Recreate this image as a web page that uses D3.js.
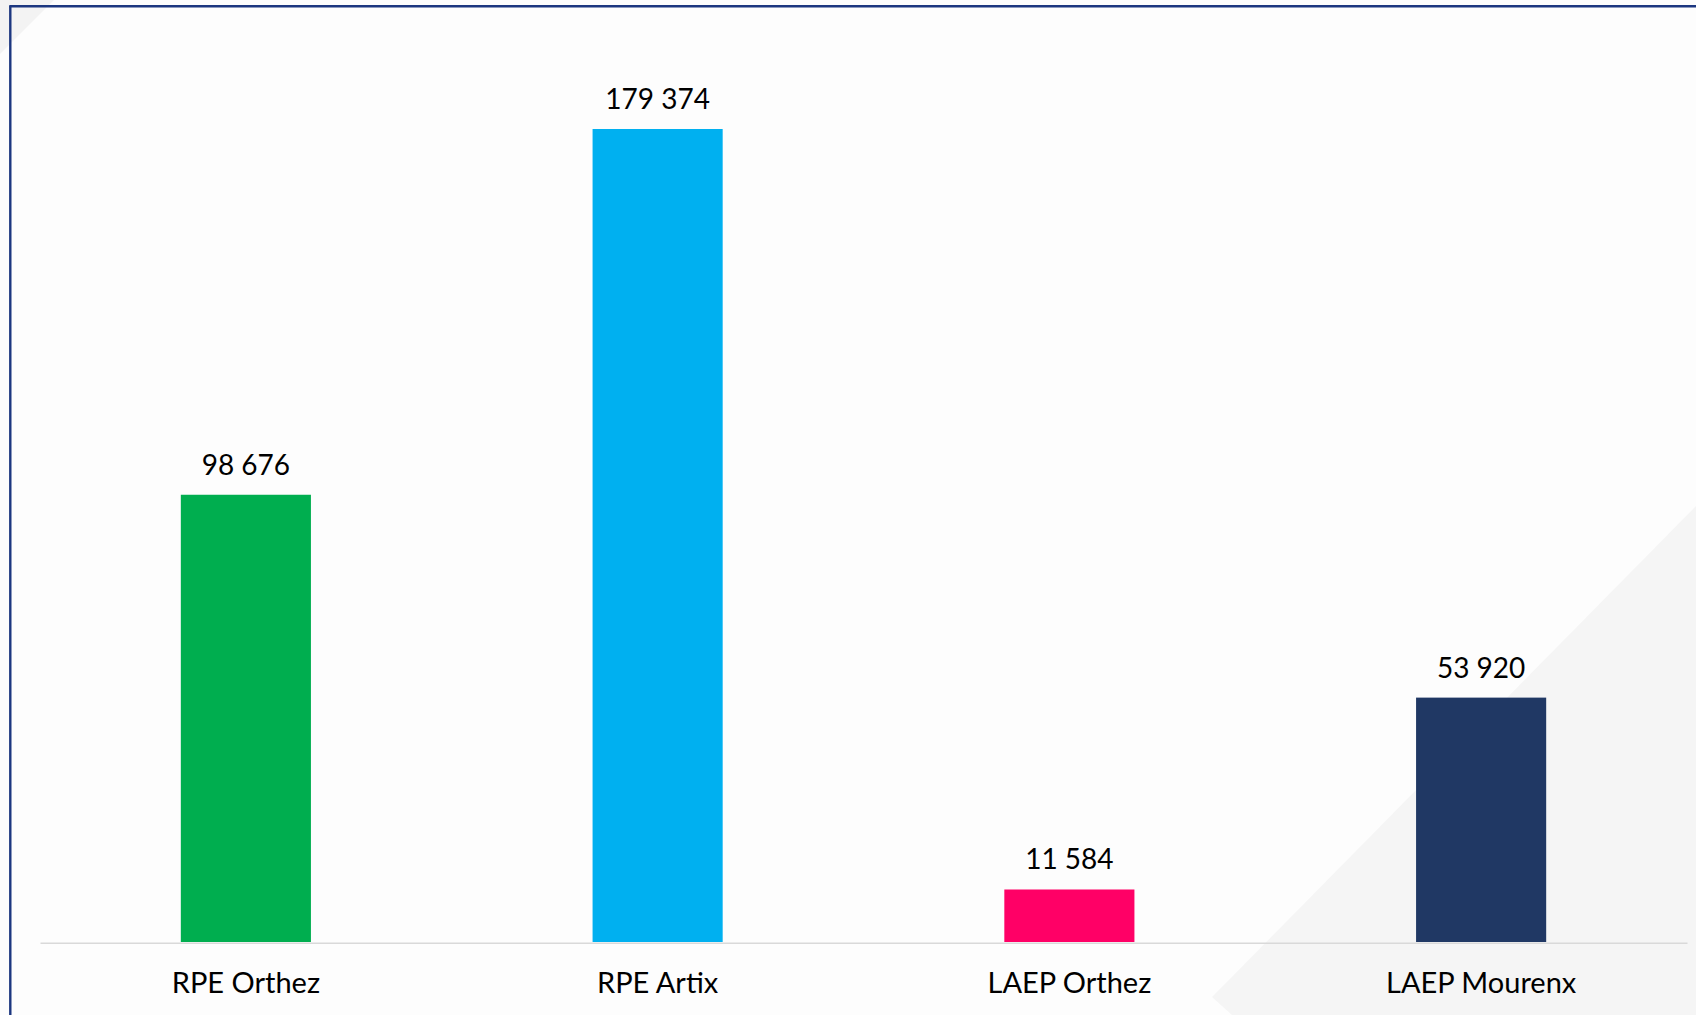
<!DOCTYPE html>
<html>
<head>
<meta charset="utf-8">
<script src="https://cdn.jsdelivr.net/npm/d3@7"></script>
<style>
  html, body { margin: 0; padding: 0; background: #fdfdfd; }
  svg { display: block; }
  text { font-family: Lato, "Open Sans", sans-serif; fill: #000; }
</style>
</head>
<body>
<svg id="chart" width="1696" height="1015"></svg>
<script>
const categories = ["RPE Orthez", "RPE Artix", "LAEP Orthez", "LAEP Mourenx"];
const values = [98676, 179374, 11584, 53920];
const valueLabels = ["98 676", "179 374", "11 584", "53 920"];
const barColors = ["#00AE4F", "#00B0F0", "#FF0066", "#203864"];
const yMax = 200000;

const W = 1696, H = 1015;
const svg = d3.select("#chart");

// background
svg.append("rect").attr("width", W).attr("height", H).attr("fill", "#fdfdfd");
// decorative light-grey diagonals
svg.append("polygon")
  .attr("points", [[0,0],[54,0],[0,54]].map(p => p.join(",")).join(" "))
  .attr("fill", "#f3f3f3");
svg.append("polygon")
  .attr("points", [[1696,506],[1696,1015],[1232,1015],[1212,997]].map(p => p.join(",")).join(" "))
  .attr("fill", "#f5f5f5");

// frame lines (top and left)
svg.append("line").attr("x1", 9.5).attr("y1", 6.3).attr("x2", W).attr("y2", 6.3)
  .attr("stroke", "#1c3780").attr("stroke-width", 2.4);
svg.append("line").attr("x1", 10.3).attr("y1", 5.5).attr("x2", 10.3).attr("y2", H)
  .attr("stroke", "#1c3780").attr("stroke-width", 2.4);

const baseY = 942;
const x = d3.scaleBand().domain(categories).range([40, 1687])
  .paddingInner(0.684).paddingOuter(0.342);
const y = d3.scaleLinear().domain([0, yMax]).range([baseY, baseY - yMax * (813 / 179374)]);

const data = categories.map((c, i) => ({ c, v: values[i], lab: valueLabels[i], col: barColors[i] }));

svg.append("g").selectAll("rect").data(data).join("rect")
  .attr("x", d => x(d.c))
  .attr("y", d => y(d.v))
  .attr("width", x.bandwidth())
  .attr("height", d => y(0) - y(d.v))
  .attr("fill", d => d.col);

svg.append("g").selectAll("text").data(data).join("text")
  .attr("x", d => x(d.c) + x.bandwidth() / 2)
  .attr("y", d => y(d.v) - 20)
  .attr("text-anchor", "middle")
  .attr("font-size", 28)
  .text(d => d.lab);

const axis = svg.append("g").attr("transform", `translate(0,${baseY + 0.8})`)
  .call(d3.axisBottom(x).tickSize(0).tickPadding(0));
axis.select(".domain").attr("stroke", "#d9d9d9").attr("stroke-width", 1.6);
axis.selectAll(".tick text")
  .attr("y", 50.5).attr("dy", 0)
  .attr("font-size", 29)
  .attr("font-family", "Lato, 'Open Sans', sans-serif")
  .attr("fill", "#000");
</script>
</body>
</html>
